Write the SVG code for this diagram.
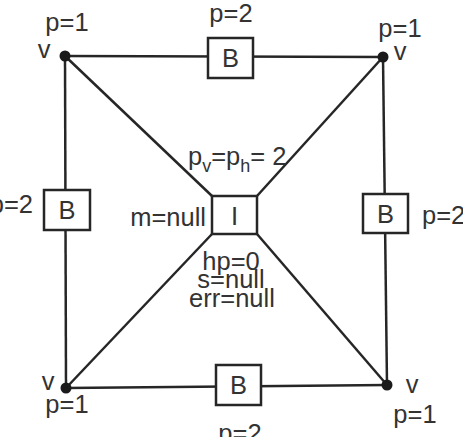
<svg xmlns="http://www.w3.org/2000/svg" width="463" height="437" viewBox="0 0 463 437">
<style>
.ln{stroke:#262626;stroke-width:2.5;fill:none}
.bx{stroke:#262626;stroke-width:2.5;fill:#fff}
.dot{fill:#1a1a1a}
text{font-family:"Liberation Sans",Arial,sans-serif;font-size:25.5px;fill:#333}
.c{text-anchor:middle}
.e{text-anchor:end}
.sub{font-size:18px}
</style>
<rect width="463" height="437" fill="#fff"/>
<g id="connectors">
<line class="ln" x1="65" y1="56" x2="383" y2="57"/>
<line class="ln" x1="66" y1="388" x2="387" y2="385"/>
<line class="ln" x1="65" y1="56" x2="66" y2="388"/>
<line class="ln" x1="383" y1="57" x2="387" y2="385"/>
<line class="ln" x1="65" y1="56" x2="212" y2="196"/>
<line class="ln" x1="383" y1="57" x2="257" y2="196"/>
<line class="ln" x1="66" y1="388" x2="212" y2="234"/>
<line class="ln" x1="387" y1="385" x2="257" y2="234"/>
</g>
<g id="v-top-left">
<circle class="dot" cx="65" cy="56" r="5.5"/>
<text x="44" y="58" class="c">v</text>
<text x="67" y="31" class="c">p=1</text>
</g>
<g id="v-top-right">
<circle class="dot" cx="383" cy="57" r="5.5"/>
<text x="400" y="60" class="c">v</text>
<text x="400" y="37" class="c">p=1</text>
</g>
<g id="v-bottom-left">
<circle class="dot" cx="66" cy="388" r="5.5"/>
<text x="48" y="390" class="c">v</text>
<text x="67" y="413" class="c">p=1</text>
</g>
<g id="v-bottom-right">
<circle class="dot" cx="387" cy="385" r="5.5"/>
<text x="412" y="393" class="c">v</text>
<text x="415" y="423" class="c">p=1</text>
</g>
<g id="b-top">
<rect class="bx" x="208" y="38" width="45" height="40"/>
<text x="230.5" y="67" class="c">B</text>
<text x="231" y="22" class="c">p=2</text>
</g>
<g id="b-left">
<rect class="bx" x="44" y="190" width="46" height="40"/>
<text x="67" y="219" class="c">B</text>
<text x="33" y="213" class="e">p=2</text>
</g>
<g id="b-right">
<rect class="bx" x="363" y="194" width="45" height="39"/>
<text x="385.5" y="223" class="c">B</text>
<text x="422" y="224">p=2</text>
</g>
<g id="b-bottom">
<rect class="bx" x="216" y="365" width="45" height="40"/>
<text x="238.5" y="394" class="c">B</text>
<text x="240" y="442" class="c">p=2</text>
</g>
<g id="i-center">
<rect class="bx" x="212" y="196" width="45" height="38"/>
<text x="234.5" y="225" class="c">I</text>
<text x="206" y="226" class="e">m=null</text>
<text x="188" y="165">p<tspan class="sub" dy="7">v</tspan><tspan dy="-7">=p</tspan><tspan class="sub" dy="7">h</tspan><tspan dy="-7">= 2</tspan></text>
<text x="231" y="270" class="c">hp=0</text>
<text x="231" y="288" class="c">s=null</text>
<text x="232" y="307" class="c">err=null</text>
</g>
</svg>
